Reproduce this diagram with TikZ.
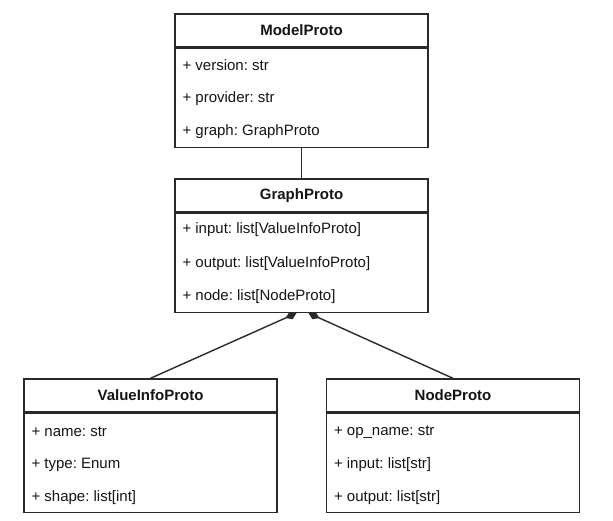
\documentclass[tikz,border=0pt]{standalone}
\usepackage{fontspec}
\setmainfont{Liberation Sans}
\usetikzlibrary{arrows.meta,calc}
\frenchspacing
\definecolor{umlline}{HTML}{2A2A2A}
\definecolor{umltext}{HTML}{151515}
\tikzset{
  umlbox/.style={draw=umlline, line width=1.4pt, fill=white, inner sep=0pt, minimum width=253pt},
  umlhead/.style={umlbox, minimum height=33pt, font=\fontsize{15}{18}\selectfont\bfseries, text=umltext},
  umlbody/.style={umlbox, minimum height=99pt, anchor=north},
  umlrow/.style={anchor=west, inner sep=0pt, font=\fontsize{15}{18}\selectfont, text=umltext},
  umllink/.style={draw=umlline, line width=1.4pt},
  composition/.style={umllink, -{Diamond[length=12pt,width=8pt,fill=umlline]}}
}
\begin{document}
\begin{tikzpicture}[x=1pt,y=-1pt]
  \useasboundingbox[fill=white] (0,0) rectangle (613,520);

  % ModelProto
  \node[umlhead] (mp) at (301.5,30.5) {ModelProto};
  \node[umlbody] (mpb) at (mp.south) {};
  \node[umlrow] (mp1) at ($(mpb.north west)+(8,17)$) {+ version: str};
  \node[umlrow] (mp2) at ($(mpb.north west)+(8,51)$) {+ provider: str};
  \node[umlrow] (mp3) at ($(mpb.north west)+(8,84)$) {+ graph: GraphProto};

  % GraphProto
  \node[umlhead] (gp) at (301.5,195.5) {GraphProto};
  \node[umlbody] (gpb) at (gp.south) {};
  \node[umlrow] (gp1) at ($(gpb.north west)+(8,17)$) {+ input: list[ValueInfoProto]};
  \node[umlrow] (gp2) at ($(gpb.north west)+(8,51)$) {+ output: list[ValueInfoProto]};
  \node[umlrow] (gp3) at ($(gpb.north west)+(8,84)$) {+ node: list[NodeProto]};

  % ValueInfoProto
  \node[umlhead] (vi) at (150.5,395.5) {ValueInfoProto};
  \node[umlbody] (vib) at (vi.south) {};
  \node[umlrow] (vi1) at ($(vib.north west)+(8,19)$) {+ name: str};
  \node[umlrow] (vi2) at ($(vib.north west)+(8,52)$) {+ type: Enum};
  \node[umlrow] (vi3) at ($(vib.north west)+(8,85)$) {+ shape: list[int]};

  % NodeProto
  \node[umlhead] (np) at (453,395.5) {NodeProto};
  \node[umlbody] (npb) at (np.south) {};
  \node[umlrow] (np1) at ($(npb.north west)+(8,19)$) {+ op\_name: str};
  \node[umlrow] (np2) at ($(npb.north west)+(8,52)$) {+ input: list[str]};
  \node[umlrow] (np3) at ($(npb.north west)+(8,85)$) {+ output: list[str]};

  % associations
  \draw[umllink] (mpb.south) -- (gp.north);
  \coordinate (dleft) at ($(gpb.south)+(-5,0)$);
  \coordinate (dright) at ($(gpb.south)+(7,0)$);
  \draw[composition] (vi.north) -- (dleft);
  \draw[composition] (np.north) -- (dright);
\end{tikzpicture}
\end{document}
